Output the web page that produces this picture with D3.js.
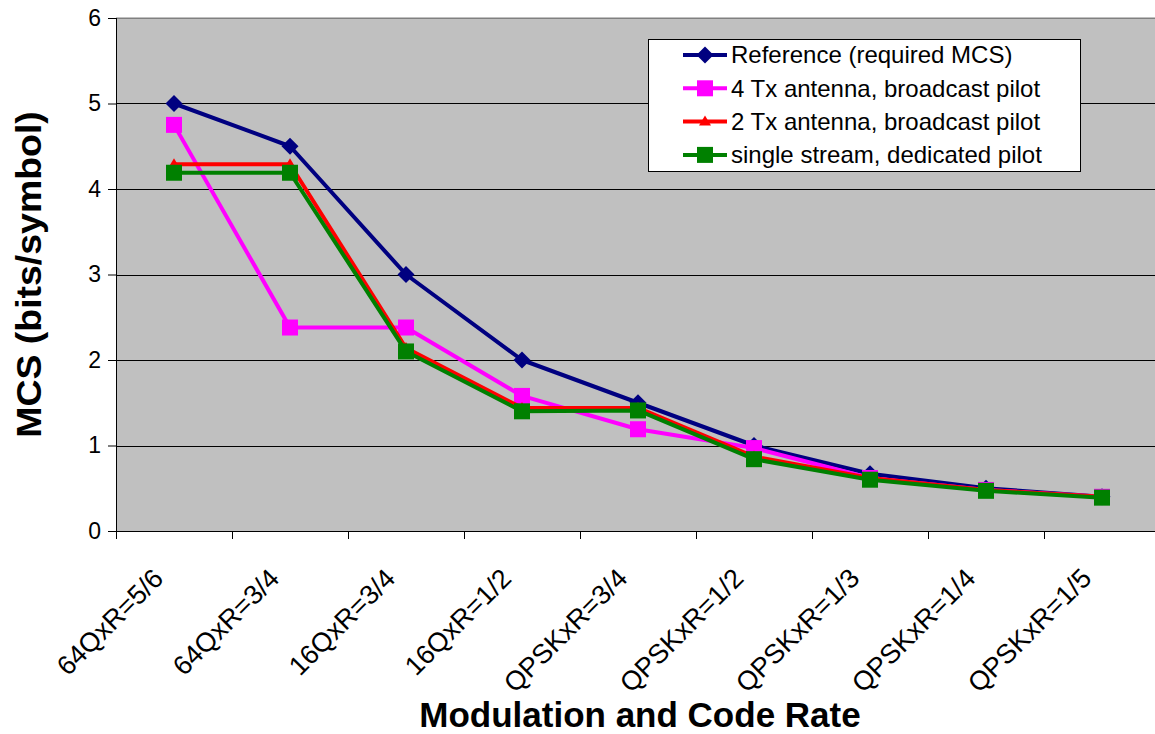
<!DOCTYPE html>
<html>
<head>
<meta charset="utf-8">
<script src="https://cdn.jsdelivr.net/npm/d3@7"></script>
<style>
  body { margin: 0; background: #fff; }
  svg { display: block; font-family: Arial, "Liberation Sans", sans-serif; }
</style>
</head>
<body>
<svg id="chart" width="1155" height="734"></svg>
<script>
const categories = ["64QxR=5/6", "64QxR=3/4", "16QxR=3/4", "16QxR=1/2", "QPSKxR=3/4",
  "QPSKxR=1/2", "QPSKxR=1/3", "QPSKxR=1/4", "QPSKxR=1/5"];
const referenceMcs = [5, 4.5, 3, 2, 1.5, 1, 0.67, 0.5, 0.4];
const tx4Broadcast = [4.75, 2.38, 2.38, 1.58, 1.19, 0.97, 0.62, 0.48, 0.4];
const tx2Broadcast = [4.29, 4.29, 2.14, 1.44, 1.44, 0.87, 0.62, 0.48, 0.4];
const singleDedicated = [4.19, 4.19, 2.1, 1.4, 1.41, 0.84, 0.6, 0.47, 0.39];
const yTicks = [0, 1, 2, 3, 4, 5, 6];

const series = [
  { name: "Reference (required MCS)", values: referenceMcs, color: "#000080", marker: "diamond" },
  { name: "4 Tx antenna, broadcast pilot", values: tx4Broadcast, color: "#FF00FF", marker: "square" },
  { name: "2 Tx antenna, broadcast pilot", values: tx2Broadcast, color: "#FF0000", marker: "triangle" },
  { name: "single stream, dedicated pilot", values: singleDedicated, color: "#008000", marker: "square" }
];

const svg = d3.select("#chart");
const margin = { left: 116, top: 18, right: -5, bottom: 203 };
const width = 1155 - margin.left - margin.right;
const height = 734 - margin.top - margin.bottom;

const x = d3.scaleBand().domain(categories).range([0, width]);
const y = d3.scaleLinear().domain([0, 6]).range([height, 0]);

const g = svg.append("g").attr("transform", `translate(${margin.left},${margin.top})`);

// plot background
g.append("rect")
  .attr("x", 0).attr("y", -1)
  .attr("width", width).attr("height", height + 1)
  .attr("fill", "#C0C0C0");

// gridlines
g.append("g").selectAll("line")
  .data(yTicks.filter(d => d > 0))
  .join("line")
  .attr("x1", 0).attr("x2", width)
  .attr("y1", d => Math.round(y(d)) + 0.5).attr("y2", d => Math.round(y(d)) + 0.5)
  .attr("stroke", d => d === 6 ? "#808080" : "#000")
  .attr("stroke-width", 1);

// y axis
const yAxis = g.append("g")
  .call(d3.axisLeft(y).tickValues(yTicks).tickSize(8).tickPadding(7).tickFormat(d3.format("d")));
yAxis.select(".domain").attr("stroke", "#000").attr("d", `M0.5,${y(6)}V${height + 0.5}`);
yAxis.selectAll(".tick line").attr("stroke", "#000");
yAxis.selectAll(".tick text").attr("font-size", 23).attr("fill", "#000")
  .attr("font-family", "Arial, 'Liberation Sans', sans-serif");

// x axis: ticks at category boundaries
const xAxis = g.append("g").attr("transform", `translate(0,${height})`);
xAxis.append("line")
  .attr("x1", 0).attr("x2", width)
  .attr("y1", 0.5).attr("y2", 0.5)
  .attr("stroke", "#000");
xAxis.selectAll("line.tk")
  .data(categories)
  .join("line")
  .attr("class", "tk")
  .attr("x1", d => Math.round(x(d)) + 0.5).attr("x2", d => Math.round(x(d)) + 0.5)
  .attr("y1", 0).attr("y2", 8)
  .attr("stroke", "#000");
xAxis.selectAll("text")
  .data(categories)
  .join("text")
  .attr("transform", d => `translate(${x(d) + x.bandwidth() / 2 - 9},${49}) rotate(-45)`)
  .attr("text-anchor", "end")
  .attr("font-size", 27)
  .attr("fill", "#000")
  .text(d => d);

// axis titles
svg.append("text")
  .attr("transform", `translate(${41},${margin.top + height / 2}) rotate(-90) scale(1.07,1)`)
  .attr("text-anchor", "middle")
  .attr("font-size", 35).attr("font-weight", "bold")
  .text("MCS (bits/symbol)");
svg.append("text")
  .attr("x", 640).attr("y", 727)
  .attr("text-anchor", "middle")
  .attr("font-size", 35).attr("font-weight", "bold")
  .text("Modulation and Code Rate");

// markers
function drawMarker(sel, type, color) {
  if (type === "diamond") {
    sel.append("path").attr("d", "M0,-8.5L8.5,0L0,8.5L-8.5,0Z").attr("fill", color);
  } else if (type === "square") {
    sel.append("rect").attr("x", -8).attr("y", -8).attr("width", 16).attr("height", 16).attr("fill", color);
  } else if (type === "triangle") {
    sel.append("path").attr("d", "M0,-6L6,4L-6,4Z").attr("fill", color);
  }
}

const line = d3.line()
  .x((d, i) => x(categories[i]) + x.bandwidth() / 2)
  .y(d => y(d));

series.forEach(s => {
  const sg = g.append("g");
  sg.append("path")
    .datum(s.values)
    .attr("d", line)
    .attr("fill", "none")
    .attr("stroke", s.color)
    .attr("stroke-width", 4)
    .attr("stroke-linejoin", "round");
  sg.selectAll("g.mk")
    .data(s.values)
    .join("g")
    .attr("class", "mk")
    .attr("transform", (d, i) => `translate(${x(categories[i]) + x.bandwidth() / 2},${y(d)})`)
    .each(function () { drawMarker(d3.select(this), s.marker, s.color); });
});

// legend
const legend = svg.append("g").attr("transform", "translate(648,39)");
legend.append("rect")
  .attr("x", 0.5).attr("y", 0.5)
  .attr("width", 432).attr("height", 132)
  .attr("fill", "#fff").attr("stroke", "#000");
const items = legend.selectAll("g.item")
  .data(series)
  .join("g")
  .attr("class", "item")
  .attr("transform", (d, i) => `translate(0,${16 + i * 33.3})`);
items.append("line")
  .attr("x1", 35).attr("x2", 79)
  .attr("stroke", d => d.color).attr("stroke-width", 4);
items.each(function (d) {
  const mk = d3.select(this).append("g").attr("transform", "translate(57,0)");
  drawMarker(mk, d.marker, d.color);
});
items.append("text")
  .attr("x", 83).attr("y", 0).attr("dy", "0.35em")
  .attr("font-size", 24)
  .attr("fill", "#000")
  .text(d => d.name);
</script>
</body>
</html>
